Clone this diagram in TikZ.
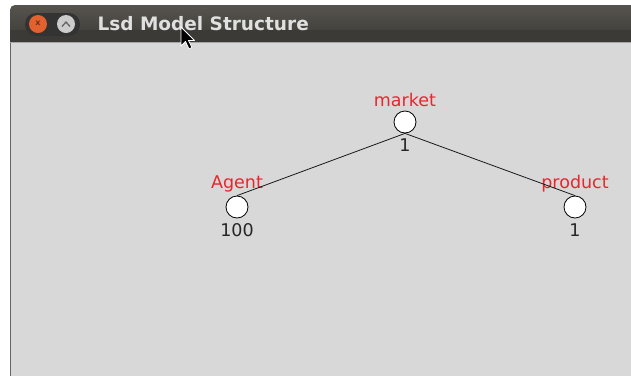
\documentclass[tikz,border=0pt]{standalone}
\usepackage{fontspec}
\setmainfont{DejaVu Sans}
\begin{document}
\begin{tikzpicture}[
    x=1pt, y=-1pt,
    circ/.style={
        circle,
        draw=black,
        fill=white,
        line width=0.8pt,
        minimum size=22pt,
        inner sep=0pt
    },
    lbl/.style={
        text=lsdred,
        font=\fontsize{17.5}{19}\selectfont,
        label distance=0pt
    },
    num/.style={
        text=black!85,
        font=\fontsize{17.5}{19}\selectfont,
        label distance=1.5pt
    },
    link/.style={
        line width=0.8pt,
        black!90
    }
]
\definecolor{lsdred}{HTML}{E8262E}
\definecolor{winbg}{HTML}{D8D8D8}
\definecolor{bartop}{HTML}{57544E}
\definecolor{barbot}{HTML}{3B3A36}
\definecolor{closebtn}{HTML}{E2622F}

\useasboundingbox (0,0) rectangle (631,376);

% Finestra
\fill[white] (0,0) rectangle (631,376);
\fill[winbg] (10,42) rectangle (631,376);
\draw[black!60, line width=1.2pt] (10.5,42) -- (10.5,376);
\shade[top color=bartop, bottom color=barbot, rounded corners=5pt] (10,5) rectangle (640,42);
\fill[barbot] (10,30) rectangle (631,42);
\draw[black!35, line width=1pt] (10,42) -- (631,42);

% Pulsanti
\fill[black!80, rounded corners=11pt] (25,13) rectangle (80,36);
\fill[closebtn] (38,24) circle (9);
\node[font=\fontsize{8}{8}\selectfont\bfseries, text=closebtn!50!black] (close) at (38,23.5) {x};
\fill[black!20] (66,24) circle (9);
\draw[black!60, line width=1.3pt] (62,26.5) -- (66,22) -- (70,26.5);
\node[anchor=west, text=black!12, font=\fontsize{18.5}{20}\selectfont\bfseries] (title) at (94,24) {Lsd Model Structure};

% Nodi
\node[circ, label={[lbl]above:market}, label={[num]below:1}] (market) at (405,122) {};
\node[circ, label={[lbl]above:Agent}, label={[num]below:100}] (agent) at (237,207) {};
\node[circ, label={[lbl]above:product}, label={[num]below:1}] (product) at (575,207) {};

% Collegamenti
\draw[link] (market.south) -- (agent.north);
\draw[link] (market.south) -- (product.north);

% Puntatore
\draw[white, fill=black, line width=0.8pt, line join=round]
    (181,27) -- (181,46) -- (185.5,41.5) -- (189,49) -- (192,47.5) -- (188.5,40.5) -- (194.5,40.5) -- cycle;

\end{tikzpicture}
\end{document}
